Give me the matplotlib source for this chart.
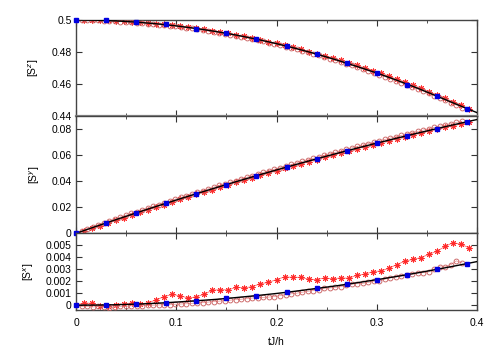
import matplotlib
matplotlib.use("Agg")
import matplotlib.pyplot as plt
import numpy as np
from matplotlib.ticker import MultipleLocator

plt.rcParams['font.family'] = ['Liberation Sans', 'DejaVu Sans']

# time grids
t_line = np.arange(0, 0.4001, 0.02)
t_sq = np.arange(0, 0.3901, 0.03)
t_circ = np.arange(71) * 0.0055
t_star = np.arange(50) * 0.008

# [S^z]
sz_line = [0.5, 0.49985, 0.49941, 0.49867, 0.49763, 0.4963, 0.49467, 0.49275, 0.49053, 0.48801,
           0.4852, 0.48209, 0.47869, 0.47499, 0.47099, 0.46688, 0.46235, 0.45753, 0.45243, 0.4472, 0.4421]
sz_sq = [0.5, 0.4998, 0.4990, 0.4973, 0.4946, 0.4917, 0.4879, 0.4835, 0.4785, 0.4729, 0.4667, 0.4596, 0.4522, 0.4444]
sz_circ = [0.5000, 0.5000, 0.5000, 0.4999, 0.4998, 0.4996, 0.4994, 0.4992, 0.4990, 0.4988,
           0.4985, 0.4983, 0.4980, 0.4977, 0.4975, 0.4971, 0.4967, 0.4964, 0.4960, 0.4956,
           0.4951, 0.4947, 0.4942, 0.4937, 0.4931, 0.4926, 0.4921, 0.4914, 0.4908, 0.4902,
           0.4895, 0.4888, 0.4881, 0.4874, 0.4866, 0.4859, 0.4851, 0.4842, 0.4834, 0.4826,
           0.4817, 0.4808, 0.4798, 0.4789, 0.4779, 0.4769, 0.4759, 0.4749, 0.4738, 0.4727,
           0.4716, 0.4705, 0.4693, 0.4682, 0.4670, 0.4658, 0.4646, 0.4634, 0.4621, 0.4608,
           0.4595, 0.4582, 0.4568, 0.4555, 0.4541, 0.4527, 0.4513, 0.4498, 0.4483, 0.4468, 0.4453]
sz_star = [0.5000, 0.5000, 0.4999, 0.4998, 0.4997, 0.4995, 0.4993, 0.4990, 0.4987, 0.4983,
           0.4978, 0.4974, 0.4968, 0.4962, 0.4956, 0.4948, 0.4942, 0.4933, 0.4925, 0.4917,
           0.4907, 0.4898, 0.4887, 0.4877, 0.4865, 0.4854, 0.4842, 0.4829, 0.4816, 0.4803,
           0.4790, 0.4776, 0.4762, 0.4747, 0.4732, 0.4716, 0.4700, 0.4683, 0.4666, 0.4648,
           0.4630, 0.4611, 0.4592, 0.4572, 0.4552, 0.4531, 0.4510, 0.4489, 0.4467, 0.4445]

# [S^y]
sy_line = [0, 0.00531, 0.01052, 0.01563, 0.02064, 0.02555, 0.03037, 0.03508, 0.03969, 0.04421,
           0.04862, 0.05293, 0.05715, 0.06126, 0.06528, 0.06919, 0.07301, 0.07673, 0.08034, 0.08386, 0.08728]
sy_sq = [0, 0.0079, 0.0156, 0.0231, 0.0304, 0.0374, 0.0442, 0.0508, 0.0572, 0.0633, 0.0692, 0.0749, 0.0803, 0.0856]
sy_circ = [0.0000, 0.0020, 0.0036, 0.0052, 0.0066, 0.0081, 0.0096, 0.0109, 0.0124, 0.0138,
           0.0152, 0.0166, 0.0180, 0.0194, 0.0207, 0.0221, 0.0235, 0.0248, 0.0262, 0.0275,
           0.0289, 0.0302, 0.0315, 0.0328, 0.0341, 0.0354, 0.0367, 0.0380, 0.0392, 0.0405,
           0.0418, 0.0430, 0.0443, 0.0455, 0.0468, 0.0480, 0.0492, 0.0504, 0.0516, 0.0528,
           0.0540, 0.0552, 0.0564, 0.0575, 0.0587, 0.0598, 0.0610, 0.0621, 0.0632, 0.0644,
           0.0655, 0.0666, 0.0677, 0.0688, 0.0698, 0.0709, 0.0720, 0.0730, 0.0741, 0.0751,
           0.0762, 0.0772, 0.0782, 0.0792, 0.0802, 0.0812, 0.0822, 0.0831, 0.0841, 0.0851, 0.0860]
sy_star = [0.0000, 0.0017, 0.0038, 0.0059, 0.0079, 0.0100, 0.0121, 0.0141, 0.0161, 0.0181,
           0.0201, 0.0221, 0.0241, 0.0260, 0.0279, 0.0299, 0.0318, 0.0336, 0.0355, 0.0374,
           0.0392, 0.0410, 0.0428, 0.0446, 0.0464, 0.0481, 0.0498, 0.0516, 0.0533, 0.0550,
           0.0566, 0.0583, 0.0599, 0.0616, 0.0632, 0.0648, 0.0664, 0.0679, 0.0695, 0.0710,
           0.0725, 0.0740, 0.0755, 0.0769, 0.0784, 0.0798, 0.0813, 0.0826, 0.0840, 0.0854]

# [S^x]
sx_line = [0, 0.00001, 0.00004, 0.00009, 0.00016, 0.00026, 0.00037, 0.00049, 0.00064, 0.0008,
           0.00098, 0.00118, 0.0014, 0.00162, 0.00187, 0.00213, 0.0024, 0.00269, 0.00299, 0.00331, 0.00364]
sx_sq = [0, 0.00002, 0.00009, 0.00021, 0.00037, 0.00056, 0.0008, 0.00108, 0.0014, 0.00174, 0.00213, 0.00255, 0.00299, 0.00347]
sx_circ = [0.0, -0.0001, -0.0001, -0.00015, -0.0001, -0.00015, -0.0002, -0.00015, -0.0001, -0.0001,
           -0.00005, -0.00005, -0.00005, 0.0, 0.0, 0.00002, 0.00005, 0.00005, 0.00008, 0.0001,
           0.00012, 0.00015, 0.0002, 0.00022, 0.00026, 0.0003, 0.00034, 0.00038, 0.00042, 0.00047,
           0.0005, 0.00055, 0.0006, 0.00064, 0.00065, 0.00068, 0.00072, 0.0008, 0.00088, 0.00095,
           0.001, 0.00108, 0.00116, 0.00122, 0.0013, 0.0014, 0.00144, 0.00148, 0.00156, 0.00165,
           0.00175, 0.0018, 0.00183, 0.0019, 0.002, 0.00202, 0.00217, 0.0023, 0.00236, 0.00244,
           0.0025, 0.00258, 0.0027, 0.00272, 0.00278, 0.00305, 0.00319, 0.0032, 0.00339, 0.0037, 0.00353]
sx_star = [0.0, 0.0002, 0.00015, -0.00005, -0.0001, 0.0, 0.0001, 0.0002, 0.0001, 0.0002,
           0.00045, 0.00072, 0.0009, 0.00078, 0.0006, 0.0007, 0.00092, 0.00125, 0.0013, 0.00128,
           0.0015, 0.00145, 0.00155, 0.0018, 0.0019, 0.00214, 0.00236, 0.00233, 0.00233, 0.00217,
           0.00214, 0.00228, 0.0022, 0.00228, 0.00225, 0.0025, 0.00258, 0.0028, 0.00286, 0.00308,
           0.00339, 0.00367, 0.00383, 0.00397, 0.00425, 0.0045, 0.0049, 0.00522, 0.00508, 0.0048]

fig = plt.figure(figsize=(5, 3.5), dpi=100)
left, width = 0.152, 0.802
ax_z = fig.add_axes([left, 0.6686, width, 0.2743])
ax_y = fig.add_axes([left, 0.3334, width, 0.3352])
ax_x = fig.add_axes([left, 0.1143, width, 0.2191])

panels = [
    (ax_z, sz_line, sz_sq, sz_circ, sz_star, (0.44, 0.5), '[S$^z$]', -0.088),
    (ax_y, sy_line, sy_sq, sy_circ, sy_star, (0, 0.09), '[S$^y$]', -0.086),
    (ax_x, sx_line, sx_sq, sx_circ, sx_star, (-0.0004, 0.006), '[S$^x$]', -0.1),
]

for ax, line, sq, circ, star, ylim, lab, lx in panels:
    ax.plot(t_star, star, color='#ff7070', lw=0.6, marker=(8, 2, 0), ms=4.2,
            mec='#ff2a2a', mew=0.7, zorder=2)
    ax.plot(t_circ, circ, color='#e89090', lw=0.5, marker='o', ms=3.5,
            mfc='none', mec='#c85a5a', mew=0.6, zorder=3)
    ax.plot(t_line, line, color='black', lw=1.0, zorder=4)
    ax.plot(t_sq, sq, ls='none', marker='s', ms=3.0, color='#0000e0', zorder=5, clip_on=False)
    ax.set_xlim(0, 0.4)
    ax.set_ylim(*ylim)
    ax.xaxis.set_major_locator(MultipleLocator(0.1))
    ax.xaxis.set_minor_locator(MultipleLocator(0.05))
    ax.tick_params(which='both', direction='in', top=True, right=True, labelsize=7.5,
                   color='#333333', pad=3)
    ax.tick_params(which='major', length=4.5)
    ax.tick_params(which='minor', length=2.5)
    for s in ax.spines.values():
        s.set_color('#444444')
        s.set_linewidth(1.0)
    ax.set_ylabel(lab, fontsize=7.5)
    ax.yaxis.set_label_coords(lx, 0.5)

ax_z.spines['bottom'].set_color('#888888')
ax_z.spines['bottom'].set_linewidth(1.6)
ax_z.set_yticks([0.44, 0.46, 0.48, 0.5])
ax_z.set_yticklabels(['0.44', '0.46', '0.48', '0.5'])
ax_y.set_yticks([0, 0.02, 0.04, 0.06, 0.08])
ax_y.set_yticklabels(['0', '0.02', '0.04', '0.06', '0.08'])
ax_x.set_yticks([0, 0.001, 0.002, 0.003, 0.004, 0.005])
ax_x.set_yticklabels(['0', '0.001', '0.002', '0.003', '0.004', '0.005'])

ax_z.tick_params(labelbottom=False)
ax_y.tick_params(labelbottom=False)
ax_x.set_xticks([0, 0.1, 0.2, 0.3, 0.4])
ax_x.set_xticklabels(['0', '0.1', '0.2', '0.3', '0.4'])
ax_x.tick_params(axis='x', pad=6)
ax_x.set_xlabel('tJ/h', fontsize=7.5, labelpad=6)

fig.savefig('out.png', dpi=100)
